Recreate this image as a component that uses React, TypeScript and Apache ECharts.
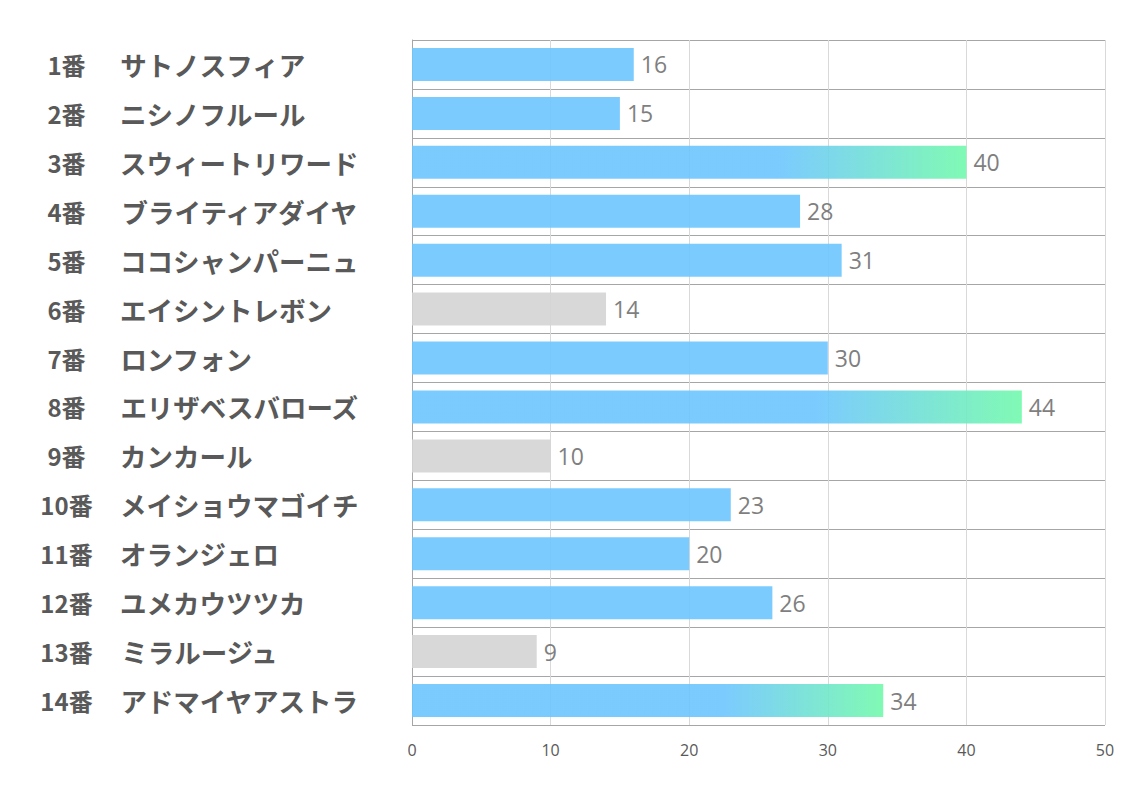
import React, { useEffect, useRef } from "react";
import * as echarts from "echarts";

const numbers = ["1番", "2番", "3番", "4番", "5番", "6番", "7番", "8番", "9番", "10番", "11番", "12番", "13番", "14番"];
const names = [
  "サトノスフィア",
  "ニシノフルール",
  "スウィートリワード",
  "ブライティアダイヤ",
  "ココシャンパーニュ",
  "エイシントレボン",
  "ロンフォン",
  "エリザベスバローズ",
  "カンカール",
  "メイショウマゴイチ",
  "オランジェロ",
  "ユメカウツツカ",
  "ミラルージュ",
  "アドマイヤアストラ",
];
const values = [16, 15, 40, 28, 31, 14, 30, 44, 10, 23, 20, 26, 9, 34];
// "g" = gradient highlight, "n" = normal blue, "x" = gray
const kinds = ["n", "n", "g", "n", "n", "x", "n", "g", "x", "n", "n", "n", "x", "g"];
const xTicks = [0, 10, 20, 30, 40, 50];

const BLUE = "rgba(109,197,255,0.9)";
const GREEN = "rgba(114,249,172,0.9)";
const GRAY = "rgba(212,212,212,0.9)";

export default function App() {
  const ref = useRef<HTMLDivElement>(null);
  useEffect(() => {
    if (!ref.current) return;
    const chart = echarts.init(ref.current, undefined, { renderer: "svg" });
    const cats = numbers.map((n, i) => n + "|" + names[i]);
    const data = values.map((v, i) => {
      let color: any = BLUE;
      if (kinds[i] === "x") color = GRAY;
      if (kinds[i] === "g")
        color = new echarts.graphic.LinearGradient(0, 0, 1, 0, [
          { offset: 0, color: BLUE },
          { offset: 0.66, color: BLUE },
          { offset: 1, color: GREEN },
        ]);
      return { value: v, itemStyle: { color } };
    });
    chart.setOption({
      animation: false,
      grid: { left: 412, right: 29, top: 40, bottom: 68, containLabel: false },
      xAxis: {
        type: "value",
        min: xTicks[0],
        max: xTicks[xTicks.length - 1],
        interval: 10,
        axisLine: { show: false },
        axisTick: { show: false },
        axisLabel: { color: "#595959", fontSize: 16, margin: 17, fontFamily: "Open Sans" },
        splitLine: { show: true, lineStyle: { color: "#d9d9d9", width: 1 } },
      },
      yAxis: {
        type: "category",
        inverse: true,
        data: cats,
        axisLine: { show: true, lineStyle: { color: "#a6a6a6", width: 1 } },
        axisTick: { show: false },
        splitLine: { show: true, lineStyle: { color: "#a6a6a6", width: 1 } },
        axisLabel: {
          align: "left",
          margin: 372,
          formatter: (v: string) => {
            const [n, s] = v.split("|");
            return "{n|" + n + "}{s|" + s + "}";
          },
          rich: {
            n: {
              width: 53,
              align: "right",
              fontSize: 24,
              fontWeight: "bold",
              color: "#595959",
              fontFamily: "Noto Sans CJK JP",
            },
            s: {
              padding: [0, 0, 0, 27],
              fontSize: 26.5,
              fontWeight: "bold",
              color: "#595959",
              fontFamily: "Noto Sans CJK JP",
            },
          },
        },
      },
      series: [
        {
          type: "bar",
          data,
          barWidth: 33,
          label: {
            show: true,
            position: "right",
            distance: 7,
            color: "#7f7f7f",
            fontSize: 23,
            fontFamily: "Open Sans",
          },
        },
      ],
    });
    return () => chart.dispose();
  }, []);
  return (
    <div
      ref={ref}
      style={{ position: "fixed", left: 0, top: 0, width: 1134, height: 793, background: "#fff" }}
    />
  );
}
